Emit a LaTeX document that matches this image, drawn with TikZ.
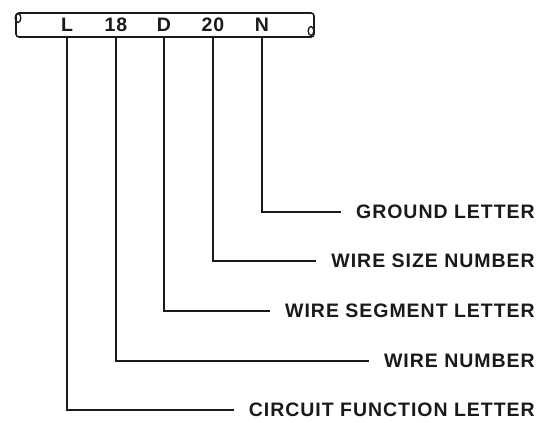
\documentclass[tikz,border=0pt]{standalone}
\usepackage{xcolor}
\usepackage{fontspec}
\setmainfont{Liberation Sans}[LetterSpace=5]
\definecolor{wcink}{HTML}{1A1A1A}
\usetikzlibrary{positioning,calc}
\tikzset{
  wcbar/.style  ={draw=wcink, line width=1.6pt, rounded corners=3pt},
  wcchar/.style ={inner sep=0pt, font=\fontsize{19.5}{21}\selectfont\bfseries, text=wcink},
  wclbl/.style  ={inner sep=0pt, anchor=east, font=\fontsize{19.5}{21}\selectfont\bfseries, text=wcink},
  wcline/.style ={draw=wcink, line width=1.6pt, shorten >=15pt},
}

\begin{document}
\begin{tikzpicture}[x=1pt,y=-1pt]
  \useasboundingbox (0,0) rectangle (542,423);
  % wire code bar
  \draw[wcbar] (16,13) rectangle (314,37);
  \draw[wcink, line width=1.3pt] (18,18) ellipse (2.8pt and 4.5pt);
  \draw[wcink, line width=1.3pt] (311,31) ellipse (2.8pt and 4.5pt);
  \coordinate (barb) at (0,37);
  \node[wcchar] (cL)  at (67,25)  {L};
  \node[wcchar] (c18) at (116,25) {18};
  \node[wcchar] (cD)  at (164,25) {D};
  \node[wcchar] (c20) at (213,25) {20};
  \node[wcchar] (cN)  at (262,25) {N};
  % labels
  \node[wclbl] (gnd) at (535,212) {GROUND LETTER};
  \node[wclbl] (siz) at (535,261) {WIRE SIZE NUMBER};
  \node[wclbl] (seg) at (535,311) {WIRE SEGMENT LETTER};
  \node[wclbl] (num) at (535,361) {WIRE NUMBER};
  \node[wclbl] (cfl) at (535,410) {CIRCUIT FUNCTION LETTER};
  % leaders
  \draw[wcline] (cN.center |- barb)  |- (gnd.west);
  \draw[wcline] (c20.center |- barb) |- (siz.west);
  \draw[wcline] (cD.center |- barb)  |- (seg.west);
  \draw[wcline] (c18.center |- barb) |- (num.west);
  \draw[wcline] (cL.center |- barb)  |- (cfl.west);
\end{tikzpicture}
\end{document}
